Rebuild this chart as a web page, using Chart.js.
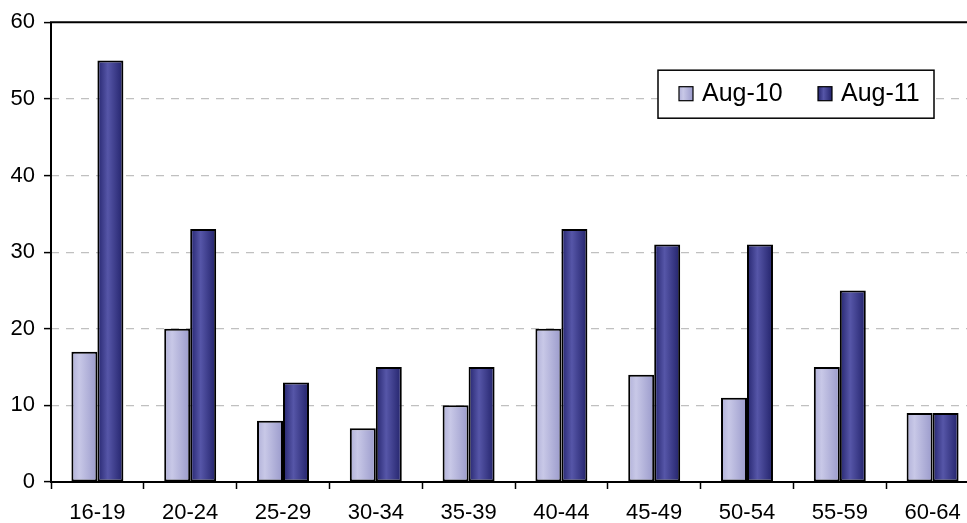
<!DOCTYPE html>
<html>
<head>
<meta charset="utf-8">
<script src="https://cdn.jsdelivr.net/npm/chart.js@4.4.1/dist/chart.umd.min.js"></script>
<style>
html,body{margin:0;padding:0;background:#fff;overflow:hidden;}
#wrap{position:relative;width:990px;height:523px;}
</style>
</head>
<body>
<div id="wrap"><canvas id="c"></canvas></div>
<script>
const categories = ['16-19','20-24','25-29','30-34','35-39','40-44','45-49','50-54','55-59','60-64'];
const seriesNames = ['Aug-10','Aug-11'];
const aug10 = [17, 20, 8, 7, 10, 20, 14, 11, 15, 9];
const aug11 = [55, 33, 13, 15, 15, 33, 31, 31, 25, 9];
const yTicks = [0, 10, 20, 30, 40, 50, 60];

const CAT_PCT = 0.56;
const gradStops = [
  [[0,'#b0b0d8'],[0.3,'#c8c8e7'],[1,'#9a9acb']],
  [[0,'#25256e'],[0.4,'#5656a8'],[1,'#22226a']]
];
const solid = ['#b8b8dc','#3c3c8c'];

function barFill(dsIndex){
  return function(ctx){
    const chart = ctx.chart;
    const xs = chart.scales && chart.scales.x;
    if (ctx.type !== 'data' || !xs || !chart.chartArea) return solid[dsIndex];
    const cx = xs.getPixelForValue(ctx.dataIndex);
    const catW = (xs.right - xs.left) / categories.length;
    const groupW = catW * CAT_PCT;
    const left = cx - groupW/2 + dsIndex * groupW/2;
    const right = left + groupW/2;
    const g = chart.ctx.createLinearGradient(left, 0, right, 0);
    gradStops[dsIndex].forEach(s => g.addColorStop(s[0], s[1]));
    return g;
  };
}

const legendPlugin = {
  id: 'innerLegend',
  afterDraw(chart){
    const ctx = chart.ctx;
    const a = chart.chartArea;
    ctx.save();
    ctx.setLineDash([]);
    ctx.lineWidth = 2;
    ctx.strokeStyle = '#000';
    ctx.beginPath();
    ctx.moveTo(a.left, a.bottom);
    ctx.lineTo(a.left, a.top);
    ctx.lineTo(a.right + 20, a.top);
    ctx.stroke();

    const boxR = a.right - 45, boxL = boxR - 276, boxT = a.top + 48, boxH = 48;
    ctx.fillStyle = '#fff';
    ctx.fillRect(boxL, boxT, 276, boxH);
    ctx.lineWidth = 1.5;
    ctx.strokeStyle = '#000';
    ctx.strokeRect(boxL, boxT, 276, boxH);
    const offs = [21, 160];
    ctx.font = '25px "Liberation Sans", Arial, sans-serif';
    ctx.textBaseline = 'alphabetic';
    chart.data.datasets.forEach((ds, i) => {
      const sx = boxL + offs[i], sy = boxT + 16.5;
      const g = ctx.createLinearGradient(sx, 0, sx + 14, 0);
      gradStops[i].forEach(s => g.addColorStop(s[0], s[1]));
      ctx.fillStyle = g;
      ctx.fillRect(sx, sy, 14, 14);
      ctx.lineWidth = 1.2;
      ctx.strokeStyle = '#000';
      ctx.strokeRect(sx, sy, 14, 14);
      ctx.fillStyle = '#000';
      ctx.fillText(ds.label, sx + 23, boxT + 31);
    });
    ctx.restore();
  }
};

new Chart(document.getElementById('c'), {
  type: 'bar',
  data: {
    labels: categories,
    datasets: [
      { label: seriesNames[0], data: aug10, backgroundColor: barFill(0) },
      { label: seriesNames[1], data: aug11, backgroundColor: barFill(1) }
    ]
  },
  plugins: [legendPlugin],
  options: {
    responsive: true,
    maintainAspectRatio: false,
    animation: false,
    devicePixelRatio: 1,
    layout: { padding: { top: 22, right: 11, left: 0, bottom: 0 } },
    datasets: {
      bar: {
        categoryPercentage: CAT_PCT,
        barPercentage: 1.0,
        borderColor: '#000',
        borderWidth: 2,
        borderSkipped: false
      }
    },
    plugins: {
      legend: { display: false },
      tooltip: { enabled: false }
    },
    scales: {
      x: {
        offset: true,
        grid: {
          offset: true,
          drawOnChartArea: false,
          drawTicks: true,
          tickLength: 7,
          tickColor: '#000',
          tickWidth: 1.5
        },
        border: { display: true, color: '#000', width: 2 },
        ticks: {
          color: '#000',
          font: { family: '"Liberation Sans", Arial, sans-serif', size: 22 },
          padding: 11,
          maxRotation: 0,
          autoSkip: false
        },
        afterFit(s){ s.height = 41; }
      },
      y: {
        min: 0,
        max: 60,
        afterBuildTicks(s){ s.ticks = yTicks.map(v => ({ value: v })); },
        grid: {
          color: c => (c.tick && (c.tick.value === 0 || c.tick.value === 60)) ? 'rgba(0,0,0,0)' : '#c0c0c0',
          lineWidth: 1.2,
          drawTicks: true,
          tickLength: 7,
          tickColor: '#000',
          tickWidth: 1.5
        },
        border: { display: false, dash: [8, 7] },
        ticks: {
          color: '#000',
          font: { family: '"Liberation Sans", Arial, sans-serif', size: 22 },
          padding: 9
        },
        afterFit(s){ s.width = 51; }
      }
    }
  }
});
</script>
</body>
</html>
